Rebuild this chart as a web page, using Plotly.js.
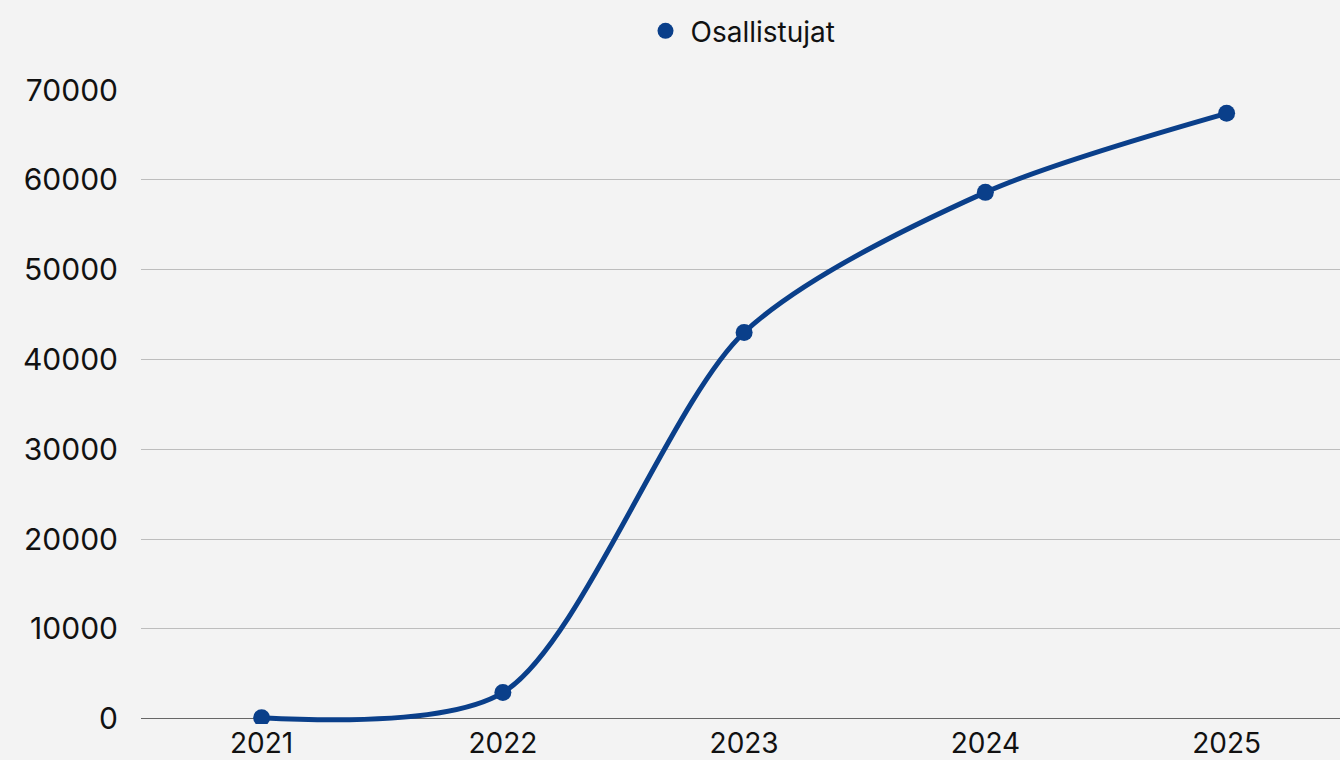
<!DOCTYPE html>
<html><head><meta charset="utf-8">
<script src="https://cdn.plot.ly/plotly-3.0.1.min.js"></script>
<style>html,body{margin:0;padding:0;background:#f3f3f3;}#chart{width:1340px;height:760px;}</style>
</head><body><div id="chart"></div>
<script>
const years = ['2021','2022','2023','2024','2025'];
const osallistujat = [100, 2900, 43000, 58600, 67400];
const seriesName = 'Osallistujat';
const yTicks = [0,10000,20000,30000,40000,50000,60000,70000];
const lineColor = '#0a3f8a';

Plotly.newPlot('chart', [{
  x: years, y: osallistujat, name: seriesName, type: 'scatter', mode: 'lines+markers',
  line: {color: lineColor, width: 5, shape: 'spline', smoothing: 0.8},
  marker: {color: lineColor, size: 17}, showlegend: false
}, {
  x: [null], y: [null], name: seriesName, type: 'scatter', mode: 'markers',
  marker: {color: lineColor, size: 30}, showlegend: true
}], {
  width: 1340, height: 760,
  paper_bgcolor: '#f3f3f3', plot_bgcolor: '#f3f3f3',
  margin: {l: 141, r: 0, t: 90, b: 35.6},
  font: {family: 'Inter, "Noto Sans", sans-serif', color: '#111', size: 30},
  showlegend: true,
  legend: {orientation: 'h', x: 0.5, xanchor: 'center', y: 0.959, yanchor: 'middle', yref: 'container', font: {size: 28}, itemsizing: 'trace', itemwidth: 40},
  xaxis: {type: 'category', range: [-0.5, 4.47], showgrid: false, zeroline: false, showline: false, ticks: '', tickfont: {size: 28}, ticklabelstandoff: 0},
  yaxis: {range: [-600, 70000], tickvals: yTicks, ticktext: yTicks.map(String), showgrid: true, gridcolor: '#bdbdbd', gridwidth: 1,
          zeroline: true, zerolinecolor: '#666', zerolinewidth: 1.5, ticks: '', ticklabelstandoff: 22, tickfont: {size: 30}, showline: false}
}, {displayModeBar: false, staticPlot: true});
</script></body></html>
